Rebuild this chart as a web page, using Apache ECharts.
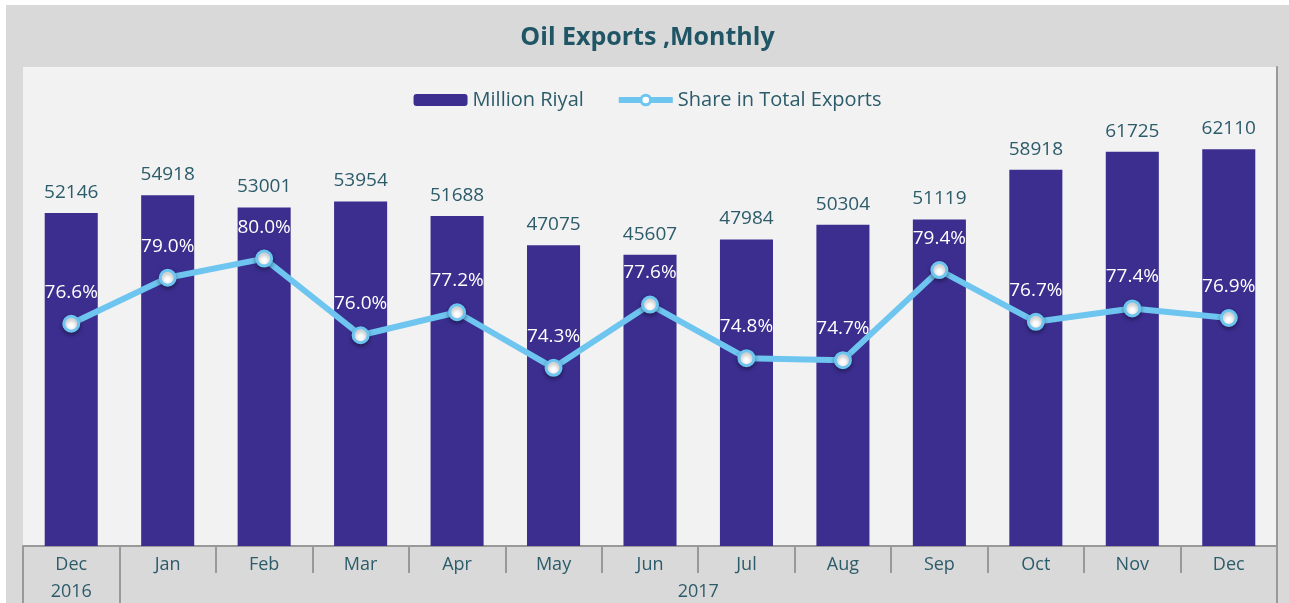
<!DOCTYPE html>
<html>
<head>
<meta charset="utf-8">
<script src="https://cdn.jsdelivr.net/npm/echarts@6/dist/echarts.min.js"></script>
<style>
  html, body { margin: 0; padding: 0; background: #fff; }
  #chart { position: absolute; left: 6px; top: 5px; width: 1283px; height: 598px; }
</style>
</head>
<body>
<div id="chart"></div>
<script>
const months = ['Dec', 'Jan', 'Feb', 'Mar', 'Apr', 'May', 'Jun', 'Jul', 'Aug', 'Sep', 'Oct', 'Nov', 'Dec']
const years = { 0.5: '2016', 7: '2017' }
const millionRiyal = [52146, 54918, 53001, 53954, 51688, 47075, 45607, 47984, 50304, 51119, 58918, 61725, 62110]
const shareTotal = [76.6, 79.0, 80.0, 76.0, 77.2, 74.3, 77.6, 74.8, 74.7, 79.4, 76.7, 77.4, 76.9]

const textColor = '#2c5b6a'
const font = 'Open Sans'
const lineBlue = '#6ec5ef'

const chart = echarts.init(document.getElementById('chart'))
chart.setOption({
  backgroundColor: '#d9d9d9',
  textStyle: { fontFamily: font },
  title: {
    text: 'Oil Exports ,Monthly',
    left: 'center',
    top: 15,
    textStyle: { color: '#1f5565', fontSize: 25, fontWeight: 'bold', fontFamily: font }
  },
  legend: {
    top: 80,
    left: 'center',
    itemWidth: 54,
    itemHeight: 12,
    itemGap: 32,
    textStyle: { color: textColor, fontSize: 20 },
    data: [
      { name: 'Million Riyal' },
      {
        name: 'Share in Total Exports',
        lineStyle: { width: 6, color: lineBlue },
        itemStyle: { color: '#fff', borderColor: lineBlue, borderWidth: 3 }
      }
    ]
  },
  grid: {
    left: 17,
    right: 12,
    top: 62,
    bottom: 57,
    show: true,
    backgroundColor: '#f2f2f2',
    borderWidth: 0
  },
  xAxis: [
    {
      type: 'category',
      data: months,
      axisLine: { show: true, lineStyle: { color: '#999', width: 2 } },
      axisTick: { show: true, interval: 0, length: 27, lineStyle: { color: '#999', width: 2 } },
      axisLabel: { color: textColor, fontSize: 18, margin: 10 }
    },
    {
      type: 'value',
      min: 0,
      max: 13,
      position: 'bottom',
      axisLine: { show: false },
      splitLine: { show: false },
      axisTick: { show: true, customValues: [0, 1, 13], length: 57, lineStyle: { color: '#999', width: 2 } },
      axisLabel: {
        customValues: [0.5, 7],
        color: textColor,
        fontSize: 18,
        margin: 37,
        formatter: (v) => years[v] || ''
      }
    }
  ],
  yAxis: [
    {
      type: 'value',
      min: 0,
      max: 75000,
      show: false
    },
    {
      type: 'value',
      min: 65,
      max: 90,
      position: 'right',
      axisLine: { show: true, lineStyle: { color: '#999', width: 2 } },
      axisTick: { show: false },
      axisLabel: { show: false },
      splitLine: { show: false }
    }
  ],
  series: [
    {
      name: 'Million Riyal',
      type: 'bar',
      data: millionRiyal,
      barWidth: '55%',
      itemStyle: { color: '#3b2e8f' },
      label: {
        show: true,
        position: 'top',
        distance: 11,
        color: textColor,
        fontSize: 19
      }
    },
    {
      name: 'Share in Total Exports',
      type: 'line',
      yAxisIndex: 1,
      data: shareTotal,
      symbol: 'circle',
      symbolSize: 15,
      lineStyle: { color: lineBlue, width: 6 },
      itemStyle: {
        color: '#fff',
        borderColor: lineBlue,
        borderWidth: 3,
        shadowColor: 'rgba(0,0,0,0.35)',
        shadowBlur: 4,
        shadowOffsetY: 2
      },
      label: {
        show: true,
        position: 'top',
        distance: 13,
        color: '#fff',
        fontSize: 19,
        formatter: (p) => p.value.toFixed(1) + '%'
      }
    }
  ]
})
</script>
</body>
</html>
